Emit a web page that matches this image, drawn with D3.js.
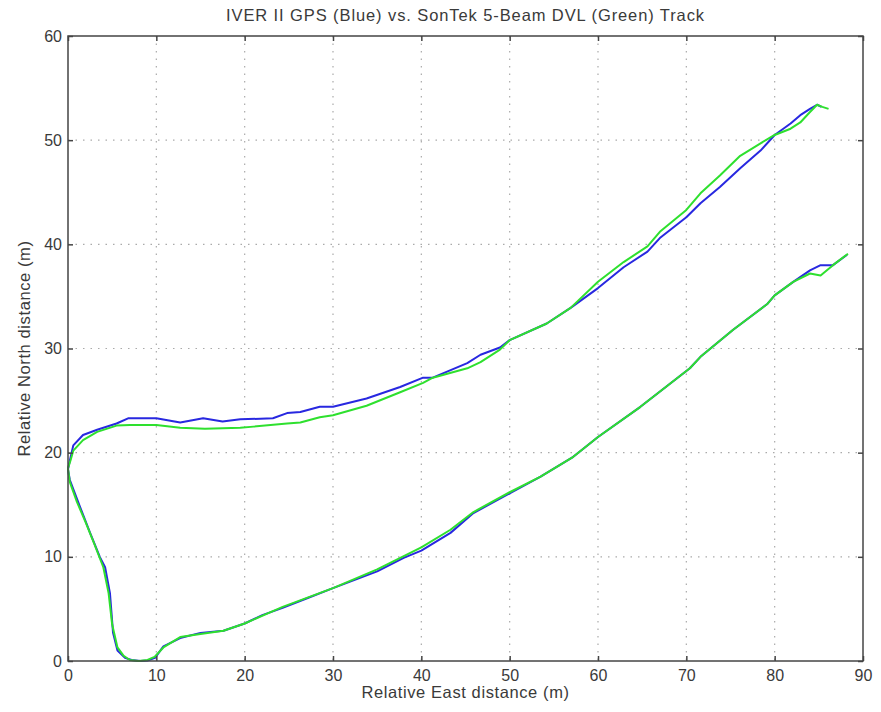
<!DOCTYPE html>
<html>
<head>
<meta charset="utf-8">
<script src="https://cdn.jsdelivr.net/npm/d3@7"></script>
<style>
  body { margin: 0; background: #fff; }
  text { font-family: "Liberation Sans", Arial, sans-serif; fill: #3a3a3a; }
</style>
</head>
<body>
<div id="chart"></div>
<script>
const chartTitle = 'IVER II GPS (Blue) vs. SonTek 5-Beam DVL (Green) Track';
const xTicks = [0, 10, 20, 30, 40, 50, 60, 70, 80, 90];
const yTicks = [0, 10, 20, 30, 40, 50, 60];

// GPS track (blue), lower leg right->left, then upper leg left->right
const gpsEast = [88.2, 86.6, 85.2, 84, 82.1, 80, 79.2, 75.3, 71.6, 70.4, 64.8, 60, 57.2, 53.5, 50, 45.9, 43.3, 40, 38, 35, 30, 27, 24.3, 22, 20, 17.6, 15, 12.7, 10.8, 9.85, 9, 8.2, 7.2, 6.45, 5.6, 5.1, 4.75, 4.2, 3.6, 2.5, 1.36, 0.2, 0,
  0.3, 0.6, 1.7, 3.3, 5.5, 6.8, 10, 12.7, 15.3, 17.5, 19.5, 23.2, 24.8, 26.3, 28.5, 30, 33.8, 37.6, 40.2, 41.3, 45.2, 46.7, 48.9, 50, 54.2, 56.9, 60, 62.9, 65.6, 67, 70, 71.6, 73.8, 76.1, 78.4, 80, 81.8, 82.9, 84, 84.8, 85.3];
const gpsNorth = [39.0, 38.0, 38.0, 37.5, 36.4, 35.1, 34.3, 31.8, 29.2, 28.1, 24.4, 21.5, 19.6, 17.7, 16.1, 14.2, 12.3, 10.6, 9.9, 8.6, 7.0, 6.0, 5.1, 4.4, 3.6, 2.9, 2.7, 2.2, 1.4, 0.3, 0.05, 0, 0.1, 0.3, 1.0, 2.7, 6.5, 9.0, 10.0, 12.3, 14.8, 17.4, 18.4,
  19.6, 20.7, 21.7, 22.2, 22.8, 23.3, 23.3, 22.9, 23.3, 23.0, 23.2, 23.3, 23.8, 23.9, 24.4, 24.4, 25.2, 26.3, 27.2, 27.2, 28.6, 29.4, 30.1, 30.8, 32.4, 33.9, 35.8, 37.8, 39.3, 40.6, 42.6, 43.95, 45.5, 47.3, 49.0, 50.5, 51.6, 52.4, 53.0, 53.4, 53.2];

// DVL track (green)
const dvlEast = [88.3, 86.6, 85.2, 84, 82.1, 80, 79.2, 75.3, 71.6, 70.4, 64.8, 60, 57.2, 53.5, 50, 45.9, 43.3, 40, 35, 30, 24.3, 20, 17.6, 15, 12.7, 10.8, 9.8, 9, 8, 7, 6.3, 5.6, 5.0, 4.6, 4.0, 3.0, 2.0, 1.0, 0.2, 0,
  0.3, 0.6, 1.7, 3.3, 5.5, 7, 10, 12.7, 15.5, 19.5, 21, 24.8, 26.3, 28.5, 30, 33.8, 37.6, 40.2, 41.3, 45.2, 46.7, 48.9, 50, 54.2, 56.9, 60, 62.9, 65.6, 67, 70, 71.6, 73.8, 76.1, 78.4, 80, 81.8, 82.9, 84, 84.8, 85.4, 86.1];
const dvlNorth = [39.1, 38.0, 37.0, 37.2, 36.4, 35.1, 34.3, 31.8, 29.2, 28.1, 24.4, 21.5, 19.6, 17.7, 16.2, 14.3, 12.6, 10.9, 8.8, 7.0, 5.2, 3.6, 2.9, 2.6, 2.3, 1.3, 0.4, 0.1, 0, 0.1, 0.5, 1.3, 3.5, 6.5, 9.0, 11.2, 13.3, 15.3, 17.2, 18.5,
  19.3, 20.2, 21.2, 22.0, 22.6, 22.65, 22.65, 22.4, 22.3, 22.4, 22.5, 22.8, 22.9, 23.4, 23.6, 24.5, 25.8, 26.7, 27.2, 28.1, 28.7, 29.9, 30.8, 32.4, 33.9, 36.4, 38.3, 39.8, 41.2, 43.3, 44.9, 46.6, 48.5, 49.7, 50.5, 51.1, 51.7, 52.7, 53.4, 53.2, 53.0];

const width = 881, height = 712;
const margin = { top: 36, right: 18, bottom: 51, left: 68 };
const iw = width - margin.left - margin.right;
const ih = height - margin.top - margin.bottom;

const svg = d3.select('#chart').append('svg').attr('width', width).attr('height', height);
const g = svg.append('g').attr('transform', `translate(${margin.left},${margin.top})`);

const x = d3.scaleLinear().domain([0, 90]).range([0, iw]);
const y = d3.scaleLinear().domain([0, 60]).range([ih, 0]);

// grid
g.append('g').selectAll('line').data(xTicks.slice(1, -1)).join('line')
  .attr('x1', d => x(d)).attr('x2', d => x(d)).attr('y1', 0).attr('y2', ih)
  .attr('stroke', '#aaa').attr('stroke-width', 1.2).attr('stroke-dasharray', '1.5,6');
g.append('g').selectAll('line').data(yTicks.slice(1, -1)).join('line')
  .attr('y1', d => y(d)).attr('y2', d => y(d)).attr('x1', 0).attr('x2', iw)
  .attr('stroke', '#aaa').attr('stroke-width', 1.2).attr('stroke-dasharray', '1.5,6');

// tracks
const line = d3.line();
const gpsPts = gpsEast.map((e, i) => [x(e), y(gpsNorth[i])]);
const dvlPts = dvlEast.map((e, i) => [x(e), y(dvlNorth[i])]);
g.append('path').attr('d', line(gpsPts)).attr('fill', 'none')
  .attr('stroke', '#2828e0').attr('stroke-width', 2).attr('stroke-linejoin', 'round');
g.append('path').attr('d', line(dvlPts)).attr('fill', 'none')
  .attr('stroke', '#2ee02e').attr('stroke-width', 2).attr('stroke-linejoin', 'round');

// axes with inward ticks on all sides
const axisStyle = sel => {
  sel.select('.domain').remove();
  sel.selectAll('line').attr('stroke', '#444').attr('stroke-width', 1.5);
  sel.selectAll('text').attr('font-size', 16).attr('fill', '#444')
    .style('font-family', '"Liberation Sans", Arial, sans-serif');
};
g.append('g').attr('transform', `translate(0,${ih})`)
  .call(d3.axisBottom(x).tickValues(xTicks).tickSizeInner(-5).tickSizeOuter(0).tickPadding(9))
  .call(axisStyle);
g.append('g')
  .call(d3.axisTop(x).tickValues(xTicks).tickSizeInner(-5).tickSizeOuter(0).tickFormat(''))
  .call(axisStyle);
g.append('g')
  .call(d3.axisLeft(y).tickValues(yTicks).tickSizeInner(-5).tickSizeOuter(0).tickPadding(6))
  .call(axisStyle);
g.append('g').attr('transform', `translate(${iw},0)`)
  .call(d3.axisRight(y).tickValues(yTicks).tickSizeInner(-5).tickSizeOuter(0).tickFormat(''))
  .call(axisStyle);

g.append('rect').attr('width', iw).attr('height', ih).attr('fill', 'none')
  .attr('stroke', '#444').attr('stroke-width', 1.5);

// labels
svg.append('text').attr('x', margin.left + iw / 2).attr('y', 21).attr('text-anchor', 'middle')
  .attr('font-size', 16.5).attr('letter-spacing', 0.9).text(chartTitle);
svg.append('text').attr('x', margin.left + iw / 2).attr('y', 698).attr('text-anchor', 'middle')
  .attr('font-size', 16.5).attr('letter-spacing', 0.6).text('Relative East distance (m)');
svg.append('text').attr('transform', `translate(30,${margin.top + ih / 2}) rotate(-90)`)
  .attr('text-anchor', 'middle').attr('font-size', 16.5).attr('letter-spacing', 0.6)
  .text('Relative North distance (m)');
</script>
</body>
</html>
